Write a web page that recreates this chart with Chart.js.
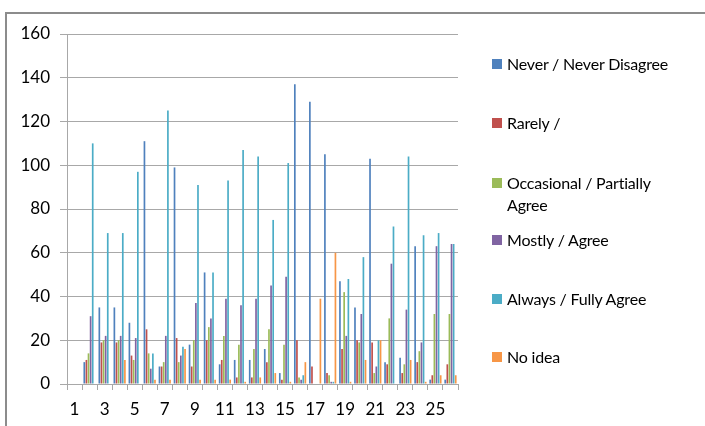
<!DOCTYPE html>
<html>
<head>
<meta charset="utf-8">
<script src="https://cdn.jsdelivr.net/npm/chart.js@4.4.1/dist/chart.umd.min.js"></script>
<style>
  html, body { margin: 0; padding: 0; background: #fff; }
  #wrap { position: relative; width: 705px; height: 426px; overflow: hidden; }
  #frame { position: absolute; left: 5px; top: 12px; width: 720px; height: 440px;
           border-left: 2px solid #8c8c8c; border-top: 2px solid #8c8c8c; box-sizing: border-box; }
  canvas { position: absolute; left: 0; top: 0; }
  .lg { position: absolute; left: 492px; font-family: Lato, "Open Sans", sans-serif;
        font-size: 16px; line-height: 22px; color: #000; letter-spacing: -0.2px; }
  .lg i { position: absolute; left: 0; top: 6px; width: 10px; height: 10px; }
  .lg span { display: block; margin-left: 15px; }
</style>
</head>
<body>
<div id="wrap">
  <div id="frame"></div>
  <canvas id="c" width="705" height="426"></canvas>
  <div id="legend"></div>
</div>
<script>
// Question numbers along the category axis
const categories = ['1','2','3','4','5','6','7','8','9','10','11','12','13',
                    '14','15','16','17','18','19','20','21','22','23','24','25','26'];

// Response counts per question
const neverDisagree   = [0, 10, 35, 35, 28, 111, 8, 99, 18, 51, 9, 11, 11, 16, 5, 137, 129, 105, 47, 35, 103, 10, 12, 63, 2, 2];
const rarely          = [0, 11, 19, 19, 13, 25, 8, 21, 8, 20, 11, 3, 3, 10, 2, 20, 8, 5, 16, 20, 19, 9, 5, 10, 4, 9];
const occasional      = [0, 14, 20, 20, 11, 14, 10, 10, 20, 26, 22, 18, 16, 25, 18, 3, 0, 4, 42, 19, 5, 30, 9, 15, 32, 32];
const mostlyAgree     = [0, 31, 22, 22, 21, 7, 22, 13, 37, 30, 39, 36, 39, 45, 49, 2, 0, 1, 22, 32, 8, 55, 34, 19, 63, 64];
const alwaysAgree     = [0, 110, 69, 69, 97, 14, 125, 17, 91, 51, 93, 107, 104, 75, 101, 4, 0, 1, 48, 58, 20, 72, 104, 68, 69, 64];
const noIdea          = [0, 0, 0, 11, 0, 2, 2, 16, 2, 2, 2, 1, 3, 5, 1, 10, 39, 60, 1, 11, 20, 0, 11, 1, 4, 4];

const seriesNames = ['Never / Never Disagree', 'Rarely /', 'Occasional / Partially Agree',
                     'Mostly / Agree', 'Always / Fully Agree', 'No idea'];
const seriesColors = ['#4F81BD', '#C0504D', '#9BBB59', '#8064A2', '#4BACC6', '#F79646'];
const seriesData = [neverDisagree, rarely, occasional, mostlyAgree, alwaysAgree, noIdea];

// Y axis range and step
const yMin = 0, yMax = 160, yStep = 20;

const axisFont = { family: 'Lato, "Open Sans", sans-serif', size: 17 };
const gridGray = '#a8a8a8';

const chart = new Chart(document.getElementById('c'), {
  type: 'bar',
  data: {
    labels: categories,
    datasets: seriesData.map((d, i) => ({
      label: seriesNames[i],
      data: d,
      backgroundColor: seriesColors[i],
      borderWidth: 0,
      categoryPercentage: 0.84,
      barPercentage: 0.8
    }))
  },
  options: {
    responsive: false,
    animation: false,
    devicePixelRatio: 1,
    layout: { padding: { left: 0, top: 34, right: 247, bottom: 0 } },
    plugins: { legend: { display: false }, tooltip: { enabled: false } },
    scales: {
      x: {
        offset: true,
        grid: { offset: true, drawOnChartArea: false, drawTicks: true, tickLength: 6, color: gridGray },
        border: { color: gridGray, width: 1 },
        ticks: {
          autoSkip: false, maxRotation: 0, minRotation: 0, padding: 9,
          color: '#000', font: axisFont,
          callback: (v, i) => (i % 2 === 0 ? categories[i] : '')
        },
        afterFit: s => { s.height = 42; }
      },
      y: {
        min: yMin, max: yMax,
        ticks: { stepSize: yStep, padding: 10, color: '#000', font: axisFont },
        grid: { color: gridGray, lineWidth: 1, tickLength: 7, drawTicks: true },
        border: { color: gridGray, width: 1 },
        afterFit: s => { s.width = 67; }
      }
    }
  }
});

// Legend on the right, one entry per series
const legendTops = [53, 112, 172, 229, 288, 346];
const legendEl = document.getElementById('legend');
seriesNames.forEach((name, i) => {
  const item = document.createElement('div');
  item.className = 'lg';
  item.style.top = legendTops[i] + 'px';
  const sw = document.createElement('i');
  sw.style.background = seriesColors[i];
  const tx = document.createElement('span');
  if (name === 'Occasional / Partially Agree') {
    tx.innerHTML = 'Occasional / Partially<br>Agree';
  } else {
    tx.textContent = name;
  }
  item.appendChild(sw);
  item.appendChild(tx);
  legendEl.appendChild(item);
});
</script>
</body>
</html>
